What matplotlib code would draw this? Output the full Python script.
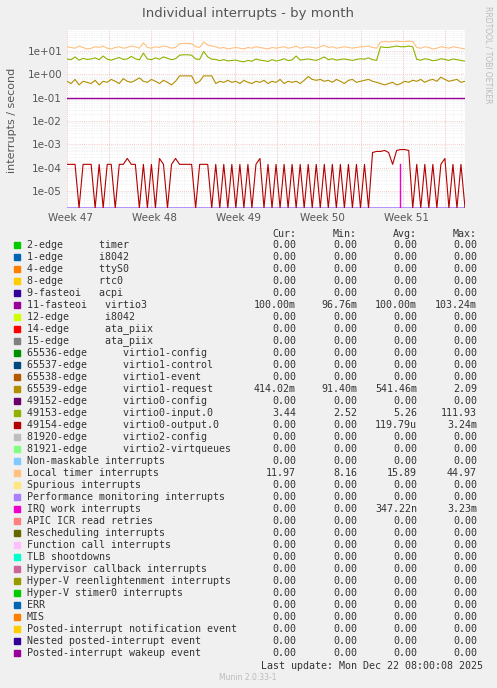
import matplotlib
matplotlib.use("Agg")
import matplotlib.pyplot as plt
import numpy as np

# ---- data ----
days = np.linspace(0, 33.2, 100)
loc_timer = [15, 14, 13, 16, 14, 12, 13, 15, 14, 16, 13, 12, 14, 15, 13, 14, 16, 15, 13, 22,
             14, 13, 15, 14, 16, 15, 13, 14, 20, 21, 21, 20, 15, 14, 24, 18, 16, 15, 13, 14,
             12, 13, 14, 13, 12, 14, 13, 15, 14, 13, 12, 14, 13, 14, 15, 13, 14, 16, 13, 14,
             15, 14, 13, 15, 17, 14, 15, 13, 14, 15, 14, 13, 14, 15, 15, 16, 14, 13, 24, 25,
             24, 25, 26, 25, 25, 26, 25, 14, 13, 15, 14, 12, 13, 15, 14, 13, 15, 14, 13, 12]
virtio0_input = [4.5, 4.2, 5.5, 4.0, 4.8, 4.3, 4.5, 5.0, 4.2, 6.0, 4.4, 4.0, 4.6, 5.2, 4.3, 4.5, 5.8, 4.6, 4.1, 8.0,
                 4.5, 4.2, 5.0, 4.4, 5.5, 4.8, 4.2, 4.6, 6.5, 6.8, 6.8, 6.5, 4.5, 4.3, 9.5, 5.5, 4.4, 4.3, 3.8, 4.2,
                 3.7, 3.9, 4.0, 3.6, 3.4, 3.9, 3.6, 4.5, 4.0, 3.8, 3.5, 4.2, 3.7, 4.0, 4.6, 3.8, 4.1, 6.0, 4.0, 4.3,
                 4.5, 4.2, 3.9, 4.6, 5.5, 4.2, 4.6, 4.0, 4.3, 4.5, 4.2, 3.9, 4.3, 4.6, 4.4, 5.0, 4.2, 3.9, 15, 14,
                 14, 15, 16, 15, 15, 16, 15, 4.3, 4.0, 4.6, 4.3, 3.8, 4.0, 4.6, 4.3, 3.9, 4.5, 4.2, 3.9, 3.6]
virtio1_request = [0.5, 0.4, 0.6, 0.35, 0.5, 0.45, 0.4, 0.55, 0.35, 0.5, 0.45, 0.6, 0.5, 0.4, 0.65, 0.5, 0.45, 0.55, 0.7, 0.5,
                   0.45, 0.6, 0.5, 0.4, 0.55, 0.45, 0.35, 0.5, 0.85, 0.85, 0.85, 0.85, 0.4, 0.5, 0.85, 0.85, 0.85, 0.4, 0.5, 0.45,
                   0.55, 0.45, 0.5, 0.4, 0.55, 0.45, 0.4, 0.5, 0.45, 0.55, 0.4, 0.5, 0.45, 0.6, 0.4, 0.5, 0.45, 0.5, 0.4, 0.55,
                   0.8, 0.6, 0.55, 0.6, 0.5, 0.55, 0.45, 0.6, 0.5, 0.4, 0.55, 0.6, 0.45, 0.5, 0.55, 0.6, 0.5, 0.45, 0.4, 0.35,
                   0.4, 0.45, 0.35, 0.4, 0.5, 0.45, 0.55, 0.5, 0.6, 0.45, 0.55, 0.6, 0.5, 0.75, 0.6, 0.5, 0.55, 0.6, 0.45, 0.5]
virtio3 = [0.1] * 100
virtio0_output = [1.4e-4, 1.4e-4, 1.4e-4, 0, 1.4e-4, 1.4e-4, 1.4e-4, 0, 1.4e-4, 0, 1.4e-4, 1.4e-4, 0, 1.4e-4, 1.4e-4, 2.5e-4, 1.4e-4, 1.4e-4, 0, 1.4e-4,
                  0, 1.4e-4, 0, 2.5e-4, 1.4e-4, 0, 1.4e-4, 2.5e-4, 1.4e-4, 1.4e-4, 1.4e-4, 1.4e-4, 0, 1.4e-4, 1.4e-4, 1.4e-4, 0, 1.4e-4, 0, 1.4e-4,
                  0, 1.4e-4, 0, 1.4e-4, 0, 1.4e-4, 0, 1.4e-4, 2.5e-4, 0, 1.4e-4, 0, 1.4e-4, 0, 1.4e-4, 0, 1.4e-4, 0, 1.4e-4, 0,
                  1.4e-4, 0, 1.4e-4, 0, 1.4e-4, 0, 1.4e-4, 0, 1.4e-4, 0, 1.4e-4, 0, 1.4e-4, 0, 1.4e-4, 0, 4.5e-4, 5e-4, 5e-4, 5.5e-4,
                  4.5e-4, 1.4e-4, 5.5e-4, 6e-4, 6e-4, 5.5e-4, 0, 1.4e-4, 0, 1.4e-4, 0, 1.4e-4, 0, 1.4e-4, 2.5e-4, 0, 1.4e-4, 0, 1.4e-4, 0]
iwi_spike_day = 27.8
iwi_spike_val = 1.4e-4

legend_rows = [
    ("2-edge      timer", "#00CC00", "0.00", "0.00", "0.00", "0.00"),
    ("1-edge      i8042", "#0066B3", "0.00", "0.00", "0.00", "0.00"),
    ("4-edge      ttyS0", "#FF8000", "0.00", "0.00", "0.00", "0.00"),
    ("8-edge      rtc0", "#FFCC00", "0.00", "0.00", "0.00", "0.00"),
    ("9-fasteoi   acpi", "#330099", "0.00", "0.00", "0.00", "0.00"),
    ("11-fasteoi   virtio3", "#990099", "100.00m", "96.76m", "100.00m", "103.24m"),
    ("12-edge      i8042", "#CCFF00", "0.00", "0.00", "0.00", "0.00"),
    ("14-edge      ata_piix", "#FF0000", "0.00", "0.00", "0.00", "0.00"),
    ("15-edge      ata_piix", "#808080", "0.00", "0.00", "0.00", "0.00"),
    ("65536-edge      virtio1-config", "#008F00", "0.00", "0.00", "0.00", "0.00"),
    ("65537-edge      virtio1-control", "#00487D", "0.00", "0.00", "0.00", "0.00"),
    ("65538-edge      virtio1-event", "#B35A00", "0.00", "0.00", "0.00", "0.00"),
    ("65539-edge      virtio1-request", "#B38F00", "414.02m", "91.40m", "541.46m", "2.09"),
    ("49152-edge      virtio0-config", "#6B006B", "0.00", "0.00", "0.00", "0.00"),
    ("49153-edge      virtio0-input.0", "#8FB300", "3.44", "2.52", "5.26", "111.93"),
    ("49154-edge      virtio0-output.0", "#B30000", "0.00", "0.00", "119.79u", "3.24m"),
    ("81920-edge      virtio2-config", "#BEBEBE", "0.00", "0.00", "0.00", "0.00"),
    ("81921-edge      virtio2-virtqueues", "#80FF80", "0.00", "0.00", "0.00", "0.00"),
    ("Non-maskable interrupts", "#80C9FF", "0.00", "0.00", "0.00", "0.00"),
    ("Local timer interrupts", "#FFC080", "11.97", "8.16", "15.89", "44.97"),
    ("Spurious interrupts", "#FFE680", "0.00", "0.00", "0.00", "0.00"),
    ("Performance monitoring interrupts", "#AA80FF", "0.00", "0.00", "0.00", "0.00"),
    ("IRQ work interrupts", "#EE00CC", "0.00", "0.00", "347.22n", "3.23m"),
    ("APIC ICR read retries", "#FF8080", "0.00", "0.00", "0.00", "0.00"),
    ("Rescheduling interrupts", "#666600", "0.00", "0.00", "0.00", "0.00"),
    ("Function call interrupts", "#FFBFFF", "0.00", "0.00", "0.00", "0.00"),
    ("TLB shootdowns", "#00FFCC", "0.00", "0.00", "0.00", "0.00"),
    ("Hypervisor callback interrupts", "#CC6699", "0.00", "0.00", "0.00", "0.00"),
    ("Hyper-V reenlightenment interrupts", "#999900", "0.00", "0.00", "0.00", "0.00"),
    ("Hyper-V stimer0 interrupts", "#00CC00", "0.00", "0.00", "0.00", "0.00"),
    ("ERR", "#0066B3", "0.00", "0.00", "0.00", "0.00"),
    ("MIS", "#FF8000", "0.00", "0.00", "0.00", "0.00"),
    ("Posted-interrupt notification event", "#FFCC00", "0.00", "0.00", "0.00", "0.00"),
    ("Nested posted-interrupt event", "#330099", "0.00", "0.00", "0.00", "0.00"),
    ("Posted-interrupt wakeup event", "#990099", "0.00", "0.00", "0.00", "0.00"),
]
week_labels = ["Week 47", "Week 48", "Week 49", "Week 50", "Week 51"]

W, H = 497, 688
BOTTOM = 1.9e-6
fig = plt.figure(figsize=(W / 100, H / 100), dpi=100, facecolor="#F0F0F0")
ax = fig.add_axes([67 / W, 1 - 208 / H, (465 - 67) / W, (208 - 30) / H])
ax.set_facecolor("white")
ax.set_yscale("log")
ax.set_ylim(BOTTOM, 78)
ax.set_xlim(0, 33.2)

for d in np.arange(0, 33.2, 3.5):
    ax.axvline(d, color="#F0A0A0", lw=0.5, ls=(0, (1, 2)), zorder=1)
for d in np.arange(0, 33.2, 0.7):
    ax.axvline(d, color="#E4E4E4", lw=0.4, ls=(0, (1, 2)), zorder=0.5)
ax.grid(True, which="minor", axis="y", color="#DDDDDD", lw=0.4, ls=(0, (1, 2)))
ax.grid(True, which="major", axis="y", color="#F0A0A0", lw=0.5, ls=(0, (1, 2)))
ax.set_yticks([1e-5, 1e-4, 1e-3, 1e-2, 1e-1, 1, 10])
ax.set_yticklabels(["1e-05", "1e-04", "1e-03", "1e-02", "1e-01", "1e+00", "1e+01"])
ax.set_xticks([0.3 + 7 * i for i in range(5)])
ax.set_xticklabels(week_labels)
ax.tick_params(axis="both", which="both", length=0, labelsize=7.5, colors="#555555")
for s in ax.spines.values():
    s.set_visible(False)

def clip(v):
    return [max(x, BOTTOM) for x in v]

ax.plot(days, [BOTTOM * 1.03] * 100, color="#AA80FF", lw=1.2, zorder=2)
ax.plot(days, clip(virtio0_output), color="#B30000", lw=0.8, zorder=3)
ax.plot([iwi_spike_day] * 2, [BOTTOM, iwi_spike_val], color="#EE00CC", lw=1, zorder=4)
ax.plot(days, virtio3, color="#990099", lw=1, zorder=3)
ax.plot(days, virtio1_request, color="#B38F00", lw=0.8, zorder=3)
ax.plot(days, virtio0_input, color="#8FB300", lw=0.8, zorder=3)
ax.plot(days, loc_timer, color="#FFC080", lw=0.8, zorder=3)

fig.text(248 / W, 1 - 13 / H, "Individual interrupts - by month", ha="center", va="center",
         fontsize=9.5, color="#555555")
fig.text(12 / W, 1 - 120 / H, "interrupts / second", rotation=90, ha="center", va="center",
         fontsize=8, color="#555555")
fig.text(488 / W, 1 - 55 / H, "RRDTOOL / TOBI OETIKER", rotation=270, ha="center", va="center",
         fontsize=5.5, color="#BBBBBB")

mono = dict(family="DejaVu Sans Mono", fontsize=7.2, color="#333333", va="center")
cols = [296, 357, 417, 477]
for x, h in zip(cols, ["Cur:", "Min:", "Avg:", "Max:"]):
    fig.text(x / W, 1 - 234 / H, h, ha="right", **mono)
for i, (name, color, *vals) in enumerate(legend_rows):
    y = 1 - (245 + 12 * i) / H
    fig.patches.append(plt.Rectangle((14 / W, y - 3 / H), 6 / W, 6 / H, color=color,
                                     transform=fig.transFigure, figure=fig))
    fig.text(27 / W, y, name, ha="left", **mono)
    for x, v in zip(cols, vals):
        fig.text(x / W, y, v, ha="right", **mono)
fig.text(483 / W, 1 - 666 / H, "Last update: Mon Dec 22 08:00:08 2025", ha="right", **mono)
fig.text(248 / W, 1 - 678 / H, "Munin 2.0.33-1", ha="center", va="center", fontsize=5.5,
         color="#BBBBBB")

fig.savefig("out.png", dpi=100, facecolor=fig.get_facecolor())
